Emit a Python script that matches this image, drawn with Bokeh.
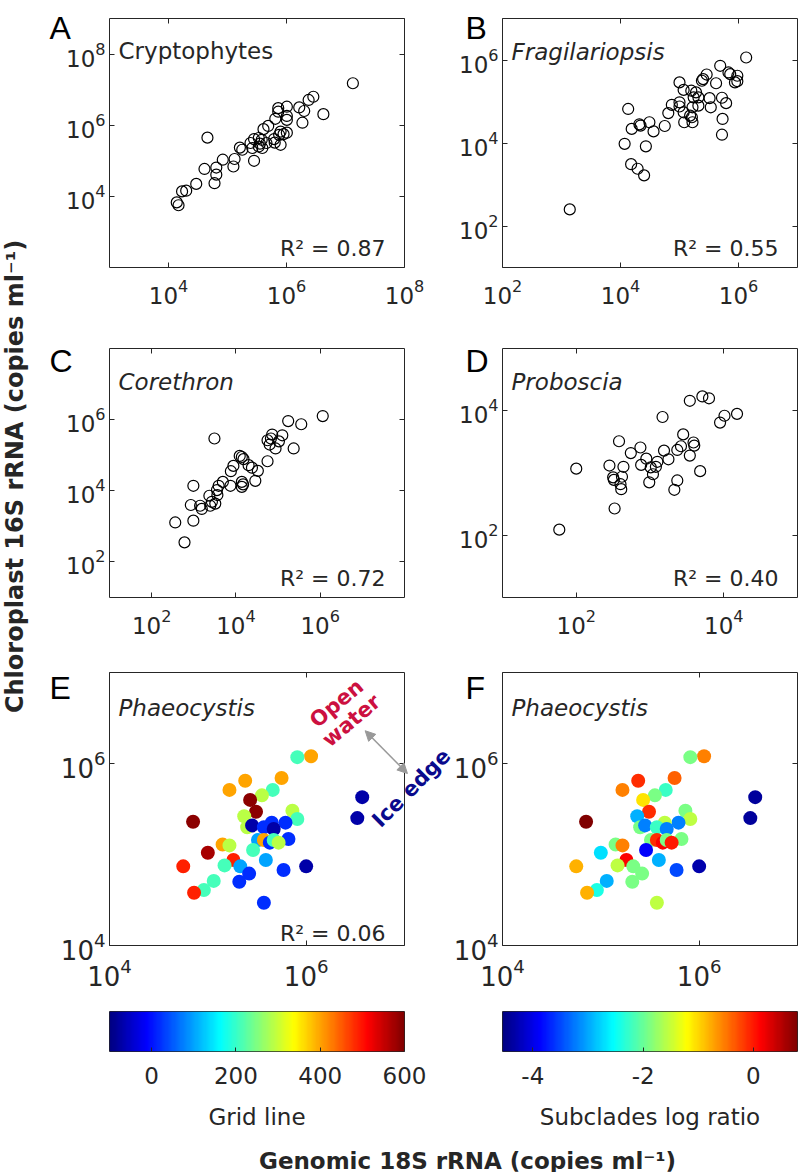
import math
import numpy as np
from bokeh.plotting import figure
from bokeh.models import (Range1d, FixedTicker, LogAxis, Label, Arrow, NormalHead,
                          LinearColorMapper, ColumnDataSource)
from bokeh.layouts import column, row
from bokeh.transform import linear_cmap
from bokeh.embed import file_html
from bokeh.resources import INLINE

# ---------------- data (log10 copies per ml) ----------------
a_x_log = [7.125, 6.455, 6.375, 6.625, 6.216, 6.30, 6.27, 5.86, 5.86, 6.006, 6.006, 6.006, 5.81, 5.69,
           5.61, 5.90, 6.006, 5.95, 5.875, 5.79, 5.90, 5.80, 5.66, 5.58, 5.53, 5.45, 5.39, 5.55, 5.59,
           5.53, 5.42, 5.25, 5.21, 5.45, 5.12, 5.10, 4.92, 4.81, 4.81, 4.78, 4.61, 4.66, 4.47, 4.30,
           4.23, 4.14, 4.17]
a_y_log = [7.18, 6.80, 6.71, 6.31, 6.50, 6.40, 6.07, 6.48, 6.38, 6.52, 6.26, 6.15, 6.18, 5.98, 5.89,
           5.82, 5.79, 5.75, 5.73, 5.61, 5.45, 5.51, 5.50, 5.59, 5.64, 5.61, 5.50, 5.48, 5.36, 5.40,
           5.36, 5.31, 5.37, 5.00, 5.05, 4.84, 5.03, 4.81, 4.61, 4.37, 4.77, 5.65, 4.35, 4.16, 4.14,
           3.83, 3.75]

b_x_log = [6.13, 5.69, 5.83, 5.86, 5.98, 5.94, 5.98, 5.62, 5.46, 5.40, 5.38, 5.00, 5.07, 5.20, 5.28,
           5.24, 5.32, 5.51, 5.72, 5.79, 5.53, 5.32, 5.22, 5.00, 4.87, 5.00, 5.07, 5.18, 5.21, 5.08,
           5.22, 4.81, 5.73, 5.72, 4.75, 4.49, 4.56, 4.32, 4.34, 4.19, 4.13, 4.07, 4.43, 4.18, 4.29,
           4.40, 3.14]
b_y_log = [6.06, 5.86, 5.70, 5.66, 5.62, 5.46, 5.49, 5.44, 5.65, 5.54, 5.50, 5.46, 5.28, 5.26, 5.22,
           5.10, 5.10, 5.08, 5.09, 4.96, 4.86, 4.90, 4.86, 4.98, 4.92, 4.88, 4.74, 4.66, 4.62, 4.50,
           4.50, 4.72, 4.58, 4.20, 4.41, 4.50, 4.28, 4.45, 4.42, 4.34, 4.82, 3.98, 3.92, 3.49, 3.38,
           3.22, 2.40]

c_x_log = [6.06, 5.55, 5.24, 5.37, 5.10, 4.86, 4.83, 4.75, 4.80, 4.94, 5.02, 4.75, 3.49, 4.09, 4.14,
           4.18, 4.30, 4.38, 4.52, 4.46, 3.94, 3.88, 4.14, 4.17, 4.14, 3.87, 3.69, 3.59, 3.55, 3.56,
           3.37, 3.43, 3.51, 3.39, 3.19, 3.15, 2.93, 2.99, 2.99, 2.56, 2.78]
c_y_log = [6.10, 5.87, 5.96, 5.19, 5.56, 5.58, 5.47, 5.42, 5.30, 5.19, 5.39, 4.83, 5.47, 4.98, 4.95,
           4.89, 4.72, 4.65, 4.56, 4.28, 4.70, 4.55, 4.25, 4.18, 4.11, 4.14, 4.25, 4.14, 4.02, 3.88,
           3.86, 3.69, 3.64, 3.58, 3.49, 3.58, 3.60, 4.14, 3.16, 3.11, 2.55]

d_x_log = [3.71, 3.80, 3.54, 4.18, 4.01, 3.95, 3.17, 3.45, 3.59, 3.60, 3.42, 3.37, 3.54, 3.19, 3.25,
           3.68, 2.58, 2.87, 2.74, 2.95, 3.10, 2.88, 3.01, 3.08, 3.04, 2.99, 3.37, 3.33, 2.45, 2.64,
           2.50, 2.62, 2.51, 2.60, 2.61, 2.52, 2.00, 1.77]
d_y_log = [4.23, 4.20, 4.16, 3.95, 3.92, 3.81, 3.90, 3.62, 3.49, 3.44, 3.43, 3.37, 3.28, 3.36, 3.22,
           3.03, 3.51, 3.41, 3.32, 3.23, 3.18, 3.13, 3.09, 3.10, 2.98, 2.85, 2.88, 2.73, 3.12, 3.10,
           2.93, 2.94, 2.89, 2.82, 2.74, 2.43, 3.07, 2.09]

e_x_log = [6.05, 5.91, 5.75, 5.66, 5.55, 5.38, 5.22, 5.43, 5.49, 5.37, 5.40, 5.45, 5.86, 5.91, 5.79,
           5.65, 5.57, 5.67, 5.82, 5.51, 5.57, 5.63, 5.67, 5.72, 5.46, 5.15, 5.22, 4.85, 5.00, 5.26,
           5.17, 5.33, 5.42, 5.32, 5.59, 5.77, 6.00, 4.75, 5.06, 4.96, 4.86, 5.57, 6.57, 6.52]
e_y_log = [6.08, 6.07, 5.84, 5.71, 5.65, 5.81, 5.71, 5.60, 5.47, 5.42, 5.30, 5.32, 5.48, 5.39, 5.35,
           5.35, 5.30, 5.28, 5.17, 5.16, 5.16, 5.13, 5.16, 5.13, 5.05, 5.11, 5.10, 5.36, 5.02, 4.94,
           4.88, 4.87, 4.79, 4.70, 4.94, 4.83, 4.87, 4.87, 4.71, 4.61, 4.58, 4.47, 5.63, 5.40]
grid_line = [400, 210, 400, 210, 290, 400, 400, 590, 590, 290, 290, -70, 290, 210, 20, 20, 20, -70,
             20, 100, 400, 20, 210, 290, 210, 400, 290, 590, 570, 490, 210, 100, 20, 20, 100, 20,
             -70, 490, 210, 210, 490, 20, -70, -70]
subclade_ratio = [-0.54, -1.9, -0.38, -2.25, -1.9, -0.1, -0.54, -1.07, -0.1, -2.95, -1.9, -3.2,
                  -1.9, -1.55, -3.2, -1.55, -2.25, -3.2, -1.9, -1.9, -0.1, 0.15, -1.9, 0.0, -3.9,
                  -1.9, -0.54, 0.8, -2.7, 0.15, -1.55, -1.9, -1.9, -1.9, -2.95, -3.5, -4.3, -0.8,
                  -2.95, -2.4, -0.8, -1.55, -4.4, -4.4]

r2_values = ["0.87", "0.55", "0.72", "0.40", "0.06"]
grid_lim = (-100, 600)
grid_ticks = [0, 200, 400, 600]
ratio_lim = (-4.55, 0.8)
ratio_ticks = [-4, -2, 0]
ratio_tick_labels = {-4: "-4", -2: "-2", 0: "0"}

# ---------------- styling ----------------
FONT = "DejaVu Sans"
LETTER_FONT = "Liberation Sans"
INK = "#262626"
FW = 295  # box width in px


def jet(n=256):
    cols = []
    for i in range(n):
        t = i / (n - 1)
        r = min(max(1.5 - abs(4 * t - 3), 0), 1)
        g = min(max(1.5 - abs(4 * t - 2), 0), 1)
        b = min(max(1.5 - abs(4 * t - 1), 0), 1)
        cols.append("#%02x%02x%02x" % (round(r * 255), round(g * 255), round(b * 255)))
    return cols


JET = jet()


def at(rng, f):
    return 10 ** (rng[0] + (rng[1] - rng[0]) * f)


def style_axis(ax, ticks, fs, standoff, show_line=True):
    ax.ticker = FixedTicker(ticks=ticks)
    ax.axis_line_color = INK if show_line else None
    ax.axis_line_width = 1
    ax.major_tick_in = 5
    ax.major_tick_out = 0
    ax.major_tick_line_color = INK
    ax.minor_tick_line_color = None
    ax.major_label_text_font = FONT
    ax.major_label_text_font_size = f"{fs}px"
    ax.major_label_text_color = INK
    ax.major_label_standoff = standoff


def panel(w, h, bl, bt, bh, xr, yr, xt, yt, fs, xso):
    """Figure whose frame fills the canvas; the visible box is drawn by 4 fixed-location axes."""
    ppx = FW / (xr[1] - xr[0])
    ppy = bh / (yr[1] - yr[0])
    x0 = xr[0] - bl / ppx
    x1 = xr[1] + (w - bl - FW) / ppx
    y0 = yr[0] - (h - bt - bh) / ppy
    y1 = yr[1] + bt / ppy
    p = figure(width=w, height=h, x_axis_type="log", y_axis_type="log",
               x_range=Range1d(10 ** x0, 10 ** x1), y_range=Range1d(10 ** y0, 10 ** y1),
               x_axis_location=None, y_axis_location=None, min_border=0,
               output_backend="svg", toolbar_location=None)
    p.outline_line_color = None
    p.grid.visible = False
    xb = (10.0 ** xr[0], 10.0 ** xr[1])
    yb = (10.0 ** yr[0], 10.0 ** yr[1])
    xticks = [10.0 ** t for t in xt]
    yticks = [10.0 ** t for t in yt]
    bottom = LogAxis(fixed_location=yb[0], bounds=xb)
    left = LogAxis(fixed_location=xb[0], bounds=yb)
    top = LogAxis(fixed_location=yb[1], bounds=xb)
    right = LogAxis(fixed_location=xb[1], bounds=yb)
    style_axis(bottom, xticks, fs, xso)
    style_axis(left, yticks, fs, 4)
    style_axis(top, xticks, 1, 0)
    style_axis(right, yticks, 1, 0)
    top.major_label_text_alpha = 0
    right.major_label_text_alpha = 0
    p.add_layout(bottom, "below")
    p.add_layout(left, "left")
    p.add_layout(top, "above")
    p.add_layout(right, "right")
    return p


def label(p, x, y, s, size, style="normal", align="left", baseline="alphabetic",
          color=INK, font=FONT, angle=0.0):
    p.add_layout(Label(x=x, y=y, text=s, text_font=font, text_font_size=f"{size}px",
                       text_font_style=style, text_align=align, text_baseline=baseline,
                       text_color=color, angle=angle))


def decorate(p, xr, yr, bh, letter, left_panel, name, italic, r2, top_off, r2_off, letter_off):
    label(p, at(xr, 9 / FW), at(yr, 1 - top_off / bh), name, 23,
          style="italic" if italic else "normal")
    if r2 is not None:
        label(p, at(xr, 1 - 19 / FW), at(yr, r2_off / bh), "R\u00b2 = " + r2, 22, align="right")
    lx = -60 / FW if left_panel else -37 / FW
    label(p, at(xr, lx), at(yr, 1 - letter_off / bh), letter, 32, color="black", font=LETTER_FONT)


def open_scatter(p, xs, ys):
    src = ColumnDataSource(dict(x=[10 ** v for v in xs], y=[10 ** v for v in ys]))
    p.scatter("x", "y", source=src, marker="circle", size=11, fill_color=None,
              line_color="black", line_width=1.2)


# ---------------- panels ----------------
YLW = 30                   # width of the shared y-title strip
LW, LBL = 424, 79          # left column figure width, box offset -> box 109..404
RW, RBL = 344, 48          # right column figure width, box offset -> box 502..797
H1, H2, H3, H4 = 312, 328, 360, 135

A_xr, A_yr = (3, 8), (2, 9)
B_xr, B_yr = (2, 7), (1, 7)
C_xr, C_yr = (1, 8), (1, 8)
D_xr, D_yr = (1, 5), (1, 5)
E_xr, E_yr = (4, 7), (4, 7)

pA = panel(LW, H1, LBL, 18, 249, A_xr, A_yr, [4, 6, 8], [4, 6, 8], 23, 11)
pB = panel(RW, H1, RBL, 18, 249, B_xr, B_yr, [2, 4, 6], [2, 4, 6], 23, 11)
pC = panel(LW, H2, LBL, 36, 249, C_xr, C_yr, [2, 4, 6], [2, 4, 6], 23, 11)
pD = panel(RW, H2, RBL, 36, 249, D_xr, D_yr, [2, 4], [2, 4], 23, 11)
pE = panel(LW, H3, LBL, 32, 273, E_xr, E_yr, [4, 6], [4, 6], 26, 12)
pF = panel(RW, H3, RBL, 32, 273, E_xr, E_yr, [4, 6], [4, 6], 26, 12)

open_scatter(pA, a_x_log, a_y_log)
open_scatter(pB, b_x_log, b_y_log)
open_scatter(pC, c_x_log, c_y_log)
open_scatter(pD, d_x_log, d_y_log)

src_e = ColumnDataSource(dict(x=[10 ** v for v in e_x_log], y=[10 ** v for v in e_y_log],
                              grid=grid_line, ratio=subclade_ratio))
pE.scatter("x", "y", source=src_e, marker="circle", size=14, line_color=None,
           fill_color=linear_cmap("grid", JET, grid_lim[0], grid_lim[1]))
pF.scatter("x", "y", source=src_e, marker="circle", size=14, line_color=None,
           fill_color=linear_cmap("ratio", JET, ratio_lim[0], ratio_lim[1]))

decorate(pA, A_xr, A_yr, 249, "A", True, "Cryptophytes", False, r2_values[0], 32, 19, 9)
decorate(pB, B_xr, B_yr, 249, "B", False, "Fragilariopsis", True, r2_values[1], 33, 19, 9)
decorate(pC, C_xr, C_yr, 249, "C", True, "Corethron", True, r2_values[2], 33, 19, 12)
decorate(pD, D_xr, D_yr, 249, "D", False, "Proboscia", True, r2_values[3], 33, 19, 12)
decorate(pE, E_xr, E_yr, 273, "E", True, "Phaeocystis", True, r2_values[4], 35, 12, 15)
decorate(pF, E_xr, E_yr, 273, "F", False, "Phaeocystis", True, None, 35, 12, 15)

# annotations in E
ang = math.radians(40)
label(pE, 10 ** 6.31, 10 ** 6.66, "Open", 21, style="bold", align="center", baseline="middle",
      color="#CC1040", angle=ang)
label(pE, 10 ** 6.46, 10 ** 6.47, "water", 21, style="bold", align="center", baseline="middle",
      color="#CC1040", angle=ang)
label(pE, 10 ** 7.07, 10 ** 5.73, "Ice edge", 21, style="bold", align="center", baseline="middle",
      color="#0A0A8C", angle=math.radians(45))
pE.add_layout(Arrow(start=NormalHead(size=10, fill_color="#999999", line_color="#999999"),
                    end=NormalHead(size=10, fill_color="#999999", line_color="#999999"),
                    x_start=10 ** 6.60, y_start=10 ** 6.36, x_end=10 ** 7.03, y_end=10 ** 5.89,
                    line_color="#999999", line_width=1.5))


# ---------------- colorbars ----------------
def colorbar_fig(w, mbl, mbr, lim, ticks, title, overrides=None):
    p = figure(width=w, height=H4, x_range=Range1d(lim[0], lim[1]), y_range=Range1d(0, 1),
               output_backend="svg", toolbar_location=None, y_axis_location=None,
               min_border_left=mbl, min_border_right=mbr, min_border_top=11, min_border_bottom=84)
    p.grid.visible = False
    p.outline_line_color = INK
    mapper = LinearColorMapper(palette=JET, low=lim[0], high=lim[1])
    grad = np.linspace(lim[0], lim[1], 512).reshape(1, -1)
    p.image(image=[grad], x=lim[0], y=0, dw=lim[1] - lim[0], dh=1, color_mapper=mapper)
    ax = p.xaxis[0]
    style_axis(ax, ticks, 23, 15, show_line=False)
    ax.major_tick_in = 4
    if overrides:
        ax.major_label_overrides = overrides
    ax.axis_label = title
    ax.axis_label_text_font = FONT
    ax.axis_label_text_font_size = "23px"
    ax.axis_label_text_font_style = "normal"
    ax.axis_label_text_color = INK
    ax.axis_label_standoff = 17
    return p


cbE = colorbar_fig(LW, LBL, LW - LBL - FW, grid_lim, grid_ticks, "Grid line")
cbF = colorbar_fig(RW, RBL, RW - RBL - FW, ratio_lim, ratio_ticks, "Subclades log ratio",
                   ratio_tick_labels)


# ---------------- shared axis titles ----------------
def text_fig(w, h):
    p = figure(width=w, height=h, x_range=Range1d(0, 1), y_range=Range1d(0, 1),
               output_backend="svg", toolbar_location=None, min_border=0,
               x_axis_location=None, y_axis_location=None)
    p.grid.visible = False
    p.outline_line_color = None
    return p


TOP_H = H1 + H2 + H3 + H4   # 1135
ylab = text_fig(YLW, TOP_H)
label(ylab, 14 / YLW, 1 - 476 / TOP_H, "Chloroplast 16S rRNA (copies ml\u207b\u00b9)", 24,
      style="bold", align="center", baseline="middle", angle=math.pi / 2)
TOTAL_W = YLW + LW + RW       # 798
xlab = text_fig(TOTAL_W, 37)
label(xlab, 467 / TOTAL_W, 1 - 25 / 37, "Genomic 18S rRNA (copies ml\u207b\u00b9)", 23,
      style="bold", align="center", baseline="middle")

grid = column(row(ylab, column(row(pA, pB), row(pC, pD), row(pE, pF), row(cbE, cbF))), xlab)

open("out.html", "w").write(file_html(grid, INLINE, title="Chloroplast vs genomic rRNA"))
